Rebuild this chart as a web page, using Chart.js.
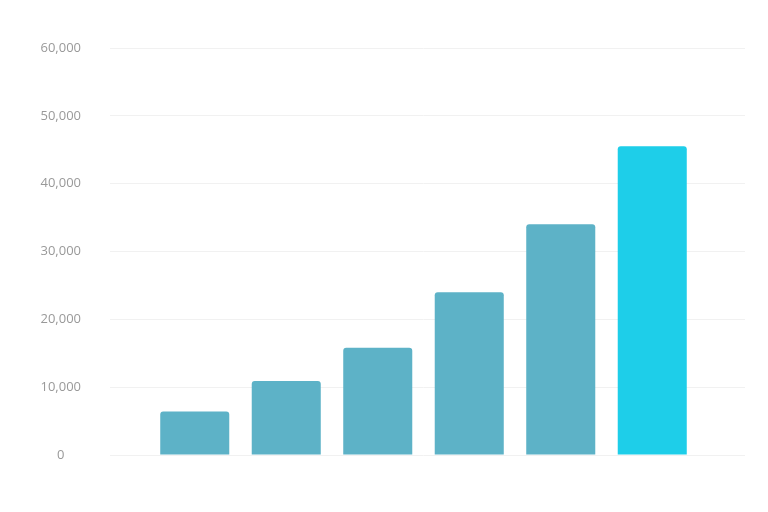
<!DOCTYPE html>
<html>
<head>
<meta charset="utf-8">
<title>Bar chart</title>
<script src="https://cdn.jsdelivr.net/npm/chart.js@4/dist/chart.umd.min.js"></script>
<style>
  html, body { margin: 0; padding: 0; background: #fff; }
  #wrap { width: 768px; height: 512px; position: relative; }
</style>
</head>
<body>
<div id="wrap"><canvas id="chart"></canvas></div>
<script>
/* ── Data ───────────────────────────────────────────────────── */
const categories = ['1', '2', '3', '4', '5', '6'];
const values     = [6400, 10900, 15800, 24000, 34000, 45500];
const yTicks     = [0, 10000, 20000, 30000, 40000, 50000, 60000];

const BAR   = '#5DB2C7';
const LAST  = '#1ECEE9';
const GRID  = '#f1f1f1';
const LABEL = '#999999';

/* ── Chart ──────────────────────────────────────────────────── */
new Chart(document.getElementById('chart'), {
  type: 'bar',
  data: {
    labels: categories,
    datasets: [{
      data: values,
      backgroundColor: values.map((v, i) => i === values.length - 1 ? LAST : BAR),
      borderRadius: 3,
      borderSkipped: 'bottom',
      barPercentage: 0.92,
      categoryPercentage: 0.82
    }]
  },
  options: {
    responsive: true,
    maintainAspectRatio: false,
    animation: false,
    layout: { padding: { top: 48, bottom: 57, left: 0, right: 0 } },
    plugins: { legend: { display: false }, tooltip: { enabled: false } },
    scales: {
      x: { display: false },
      y: {
        position: 'left',
        min: yTicks[0],
        max: yTicks[yTicks.length - 1],
        afterBuildTicks: s => { s.ticks = yTicks.map(v => ({ value: v })); },
        afterFit: s => { s.width = 149; },
        border: { display: false },
        grid: { color: GRID, tickLength: 39 },
        ticks: {
          color: LABEL,
          padding: 29,
          crossAlign: 'center',
          font: { family: 'Open Sans', size: 13 },
          callback: v => v.toLocaleString('en-US')
        }
      },
      y2: {
        position: 'right',
        min: yTicks[0],
        max: yTicks[yTicks.length - 1],
        afterBuildTicks: s => { s.ticks = yTicks.map(v => ({ value: v })); },
        afterFit: s => { s.width = 70; },
        border: { display: false },
        grid: { color: GRID, tickLength: 47, drawOnChartArea: false },
        ticks: { display: false }
      }
    }
  }
});
</script>
</body>
</html>
